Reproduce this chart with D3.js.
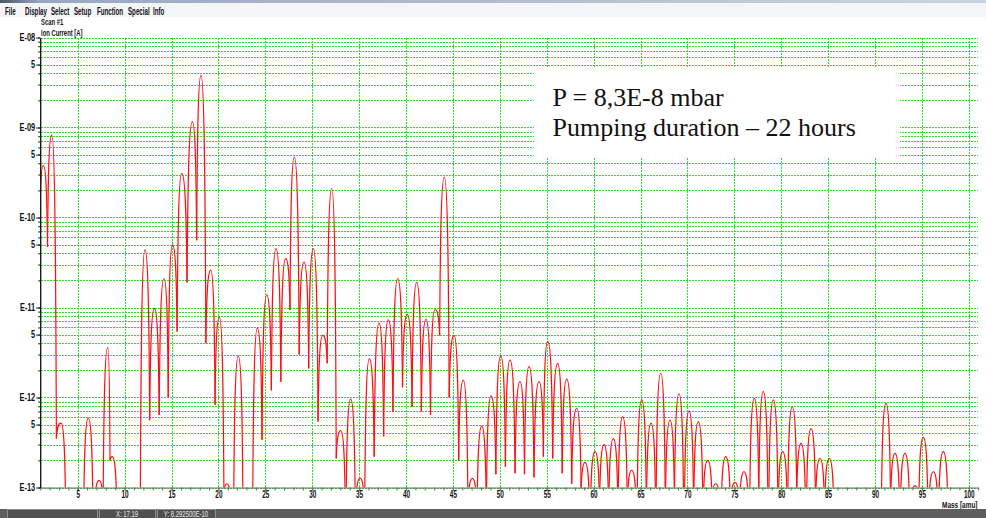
<!DOCTYPE html>
<html>
<head>
<meta charset="utf-8">
<script src="https://cdn.jsdelivr.net/npm/d3@7"></script>
<style>
  html, body { margin: 0; padding: 0; background: #fff; }
  svg { display: block; }
</style>
</head>
<body>
<svg id="chart" width="986" height="518"></svg>
<script>
// ---- data (mass in amu, ion current in A) ----
const massRange = [1, 101];
const currentRange = [1e-13, 1e-8];
const traceStart = [1.0, 1.4e-10];

// peak position and height of every visible peak
const peakMass = [
  1.33, 2.23, 3.22, 6.13, 7.27, 8.20, 8.68, 12.17, 13.17, 14.20,
  15.10, 16.09, 17.22, 18.14, 19.18, 20.10, 20.90, 22.12, 24.15, 25.15,
  26.14, 27.17, 28.09, 29.13, 30.12, 31.12, 32.08, 33.04, 34.10, 35.10,
  36.09, 37.12, 38.11, 39.11, 40.14, 41.14, 42.13, 43.09, 44.08, 45.12,
  46.11, 47.07, 48.07, 49.06, 50.10, 51.09, 52.15, 53.11, 54.18, 55.11,
  56.17, 57.13, 58.20, 59.08, 60.15, 61.11, 62.10, 63.10, 64.06, 65.13,
  66.12, 67.15, 68.14, 69.10, 70.17, 71.16, 72.16, 73.02, 74.09, 75.07,
  76.03, 77.13, 78.09, 79.16, 80.16, 81.18, 82.11, 83.18, 84.13, 85.12,
  91.17, 92.13, 93.19, 94.26, 95.15, 96.22, 97.28
];
const peakValue = [
  3.8e-10, 8.3e-10, 5.2e-13, 5.9e-13, 1.2e-13, 3.6e-12, 2.2e-13, 4.4e-11, 9.8e-12, 2.1e-11,
  5.0e-11, 3.1e-10, 1.16e-9, 3.8e-9, 2.6e-11, 7.8e-12, 1.1e-13, 2.9e-12, 5.9e-12, 1.38e-11,
  4.5e-11, 3.5e-11, 4.7e-10, 3.2e-11, 4.5e-11, 4.9e-12, 2.1e-10, 4.3e-13, 9.6e-13, 1.27e-13,
  2.7e-12, 6.7e-12, 7.3e-12, 2.1e-11, 8.4e-12, 1.9e-11, 7.4e-12, 9.5e-12, 2.8e-10, 4.9e-12,
  1.56e-12, 1.26e-13, 4.8e-13, 1.04e-12, 2.9e-12, 2.6e-12, 1.5e-12, 2.2e-12, 1.5e-12, 4.2e-12,
  2.4e-12, 1.6e-12, 7.6e-13, 1.9e-13, 2.5e-13, 3.0e-13, 3.5e-13, 6.1e-13, 1.56e-13, 9.4e-13,
  5.2e-13, 1.86e-12, 5.6e-13, 1.1e-12, 7.1e-13, 5.4e-13, 2.0e-13, 1.1e-13, 2.2e-13, 1.14e-13,
  1.5e-13, 9.8e-13, 1.16e-12, 9.4e-13, 2.5e-13, 7.9e-13, 3.1e-13, 4.5e-13, 2.1e-13, 2.1e-13,
  8.6e-13, 2.4e-13, 2.4e-13, 1.05e-13, 3.6e-13, 1.5e-13, 2.5e-13
];
// minimum between peak i and peak i+1 (null = trace drops below E-13)
const valleyValue = [
  4.7e-11, 3.5e-13, null, null, null, 2.0e-13, null, 5.6e-13, 6.4e-13, 1.0e-12,
  5.4e-12, 1.9e-11, 5.6e-11, 4.0e-12, 8.3e-13, null, null, null, 3.4e-13, 1.2e-12,
  1.5e-12, 9.4e-12, 3.0e-12, 2.1e-12, 5.4e-13, 2.4e-12, 2.1e-13, null, null, null,
  2.2e-13, 3.7e-13, 7.0e-13, 1.3e-12, 7.9e-13, 7.0e-13, 6.4e-13, 4.9e-12, 1.0e-12, 2.0e-13,
  null, null, null, 1.4e-13, 1.7e-13, 1.44e-13, 1.4e-13, 1.3e-13, 2.2e-13, 2.1e-13,
  1.44e-13, 1.1e-13, null, null, null, null, null, null, null, null,
  null, null, null, null, null, null, null, null, null, null,
  null, null, null, null, null, null, null, null, null, null,
  null, null, null, null, null, null
];
const baseline = 5e-14;   // level the trace sinks to between separate peaks

// ---- axis ticks and labels ----
const xTickLabels = [5, 10, 15, 20, 25, 30, 35, 40, 45, 50, 55, 60, 65, 70, 75, 80, 85, 90, 95, 100];
const yTickValues = [1e-8, 5e-9, 1e-9, 5e-10, 1e-10, 5e-11, 1e-11, 5e-12, 1e-12, 5e-13, 1e-13];
const yTickLabels = ["E-08", "5", "E-09", "5", "E-10", "5", "E-11", "5", "E-12", "5", "E-13"];

const menuItems = ["File", "Display", "Select", "Setup", "Function", "Special", "Info"];
const noteLines = ["P = 8,3E-8 mbar", "Pumping duration \u2013 22 hours"];
const statusTexts = ["", "X:  17.19", "Y: 8.292500E-10"];

// ---- layout ----
const width = 986, height = 518;
const plot = { left: 40.2, right: 978.2, top: 37.5, bottom: 487.5 };
const uiFont = '"Liberation Sans", Arial, sans-serif';
const gridColor = '#22e622';

const svg = d3.select('#chart');

const x = d3.scaleLinear().domain(massRange).range([plot.left, plot.right]);
const y = d3.scaleLog().domain(currentRange).range([plot.bottom, plot.top]);

// the UI font of the screenshot is squeezed horizontally, hence the scale(sx,1)
function uiText(g, tx, ty, txt, opts) {
    opts = opts || {};
    g.append('text')
        .attr('transform', `translate(${tx},${ty}) scale(${opts.sx || 0.62},1)`)
        .attr('font-family', uiFont)
        .attr('font-size', opts.size || 10)
        .attr('font-weight', opts.weight || 'bold')
        .attr('fill', opts.fill || '#111')
        .attr('text-anchor', opts.anchor || 'start')
        .text(txt);
}

// window title remnant and menu bar
const defs = svg.append('defs');
const grad = defs.append('linearGradient').attr('id', 'titleGrad');
grad.append('stop').attr('offset', '0%').attr('stop-color', '#4a5566');
grad.append('stop').attr('offset', '4%').attr('stop-color', '#9aa8bc');
grad.append('stop').attr('offset', '100%').attr('stop-color', '#c9d4e2');
svg.append('rect').attr('x', 0).attr('y', 0).attr('width', width).attr('height', 3)
    .attr('fill', 'url(#titleGrad)');
svg.append('rect').attr('x', 0).attr('y', 3).attr('width', width).attr('height', 14)
    .attr('fill', '#f3f5f9');

const menu = svg.append('g');
const menuX = [5, 25, 51, 74, 97, 128, 153];
menuItems.forEach((m, i) => uiText(menu, menuX[i], 14.5, m));

const head = svg.append('g');
uiText(head, 41, 25, 'Scan #1', { size: 9.5 });
uiText(head, 41, 35.5, 'Ion Current [A]', { size: 9.5 });

// grid (dotted, aligned on whole pixels)
const grid = svg.append('g');
const yGrid = y.ticks();
grid.selectAll('.hgrid')
    .data(yGrid)
    .enter()
    .append('line')
    .attr('class', 'hgrid')
    .attr('x1', Math.round(plot.left) + 1)
    .attr('x2', Math.round(plot.right))
    .attr('y1', d => Math.round(y(d)) + 0.5)
    .attr('y2', d => Math.round(y(d)) + 0.5)
    .attr('stroke', gridColor)
    .attr('stroke-width', 1)
    .attr('stroke-dasharray', '2,1');

grid.selectAll('.vgrid')
    .data(xTickLabels)
    .enter()
    .append('line')
    .attr('class', 'vgrid')
    .attr('x1', d => Math.round(x(d)) + 0.5)
    .attr('x2', d => Math.round(x(d)) + 0.5)
    .attr('y1', Math.round(plot.top))
    .attr('y2', Math.round(plot.bottom))
    .attr('stroke', gridColor)
    .attr('stroke-width', 1)
    .attr('stroke-dasharray', '2,1');

// note box
svg.append('rect')
    .attr('x', 534).attr('y', 68).attr('width', 366).attr('height', 90)
    .attr('fill', '#fff');
svg.append('g').selectAll('text')
    .data(noteLines)
    .enter()
    .append('text')
    .attr('x', 552.5)
    .attr('y', (d, i) => 106 + i * 30)
    .attr('font-family', '"Liberation Serif", "Times New Roman", serif')
    .attr('font-size', 26)
    .attr('fill', '#111')
    .text(d => d);

// trace: one rounded segment per peak, from valley to valley
const segments = peakMass.map((m, i) => {
    let left, right;
    if (i === 0) left = traceStart;
    else if (valleyValue[i - 1] != null) left = [(peakMass[i - 1] + m) / 2, valleyValue[i - 1]];
    else left = [m - 0.5, baseline];
    if (i === peakMass.length - 1 || valleyValue[i] == null) right = [m + 0.5, baseline];
    else right = [(m + peakMass[i + 1]) / 2, valleyValue[i]];
    return [left, [m, peakValue[i]], right];
});

// bezier handles: level at the peak, steep into the valley
const handleTop = 0.8, handleFoot = 0.1;
function peakPath(seg) {
    const [L, P, R] = seg.map(d => [x(d[0]), y(d[1])]);
    const handles = V => {
        const dx = V[0] - P[0], dy = V[1] - P[1];
        return [
            [P[0] + handleTop * dx, P[1]],
            [P[0] + (1 - handleFoot) * dx, P[1] + (1 - 4 * handleFoot) * dy]
        ];
    };
    const [l1, l2] = handles(L);
    const [r1, r2] = handles(R);
    const p = d3.path();
    p.moveTo(L[0], L[1]);
    p.bezierCurveTo(l2[0], l2[1], l1[0], l1[1], P[0], P[1]);
    p.bezierCurveTo(r1[0], r1[1], r2[0], r2[1], R[0], R[1]);
    return p.toString();
}

defs.append('clipPath').attr('id', 'plotClip')
    .append('rect')
    .attr('x', plot.left).attr('y', plot.top - 2)
    .attr('width', plot.right - plot.left)
    .attr('height', plot.bottom - plot.top + 2);

svg.append('g')
    .attr('clip-path', 'url(#plotClip)')
    .selectAll('path')
    .data(segments)
    .enter()
    .append('path')
    .attr('d', peakPath)
    .attr('fill', 'none')
    .attr('stroke', '#ff1010')
    .attr('stroke-width', 1.2)
    .attr('stroke-linejoin', 'round');

// x axis: a tick on every mass, labels every 5
const xMinor = d3.range(massRange[0], massRange[1] + 1);
const xAxisG = svg.append('g')
    .attr('transform', `translate(0,${plot.bottom})`)
    .call(d3.axisBottom(x).tickValues(xMinor).tickSize(3).tickSizeOuter(0).tickFormat(''));
xAxisG.select('.domain').attr('stroke', '#6a6a6a');
xAxisG.selectAll('.tick line').attr('stroke', '#6a6a6a');

const xLab = svg.append('g')
    .attr('transform', `translate(0,${plot.bottom})`)
    .call(d3.axisBottom(x).tickValues(xTickLabels).tickSize(3).tickSizeOuter(0));
xLab.select('.domain').remove();
xLab.selectAll('.tick line').attr('stroke', '#6a6a6a');
xLab.selectAll('text')
    .attr('y', 3.5)
    .attr('transform', 'scale(0.64,1)')
    .attr('font-family', uiFont)
    .attr('font-size', 10)
    .attr('font-weight', 'bold')
    .attr('fill', '#111');

uiText(svg, 977.5, 508, 'Mass [amu]', { sx: 0.68, size: 9.5, anchor: 'end' });

// y axis: minor ticks at every gridline, labelled ticks at 1 and 5 of each decade
const yMinorG = svg.append('g')
    .attr('transform', `translate(${plot.left},0)`)
    .call(d3.axisLeft(y).tickValues(yGrid).tickSize(2).tickSizeOuter(0).tickFormat(''));
yMinorG.select('.domain').attr('stroke', '#1a1a1a').attr('stroke-width', 1.4);
yMinorG.selectAll('.tick line').attr('stroke', '#1a1a1a');

const ySq = 0.74;
const yLab = svg.append('g')
    .attr('transform', `translate(${plot.left},0)`)
    .call(d3.axisLeft(y).tickValues(yTickValues).tickSize(4).tickSizeOuter(0)
        .tickFormat((d, i) => yTickLabels[i]));
yLab.select('.domain').remove();
yLab.selectAll('.tick line').attr('stroke', '#1a1a1a');
yLab.selectAll('text')
    .attr('x', -5 / ySq)
    .attr('transform', `scale(${ySq},1)`)
    .attr('font-family', uiFont)
    .attr('font-size', 10)
    .attr('font-weight', 'bold')
    .attr('fill', '#111');

// status bar
svg.append('rect').attr('x', 0).attr('y', 509).attr('width', width).attr('height', 9)
    .attr('fill', '#5e5e5e');
const panelX = [7, 99, 157];
const panelW = [90, 56, 58];
const status = svg.append('g');
statusTexts.forEach((t, i) => {
    status.append('rect')
        .attr('x', panelX[i] + 0.5).attr('y', 509.5)
        .attr('width', panelW[i]).attr('height', 9)
        .attr('fill', '#505050')
        .attr('stroke', '#8d8d8d');
    if (t) uiText(status, panelX[i] + panelW[i] / 2, 517, t,
        { size: 8.5, weight: 'normal', fill: '#e6e6e6', anchor: 'middle', sx: 0.7 });
});
</script>
</body>
</html>
